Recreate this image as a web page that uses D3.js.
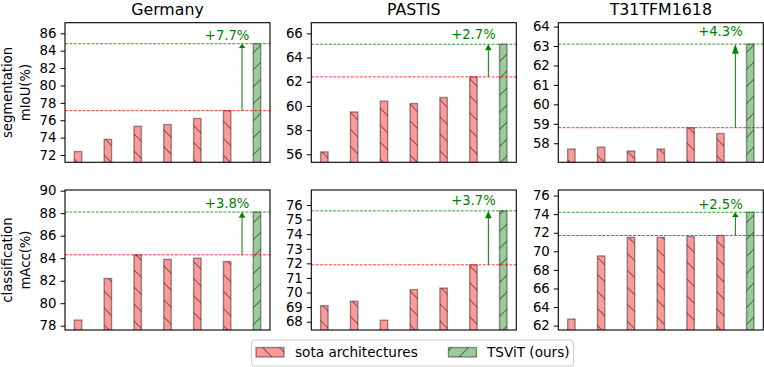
<!DOCTYPE html>
<html>
<head>
<meta charset="utf-8">
<script src="https://cdn.jsdelivr.net/npm/d3@7"></script>
<style>
  body { margin: 0; background: #fff; }
  svg { display: block; font-family: "DejaVu Sans", sans-serif; }
</style>
</head>
<body>
<svg width="764" height="367"></svg>
<script>
// columns / rows of the grid
var datasets = ["Germany", "PASTIS", "T31TFM1618"];
var rowLabels = [["segmentation", "mIoU(%)"], ["classification", "mAcc(%)"]];
var legendLabels = ["sota architectures", "TSViT (ours)"];

// segmentation (mIoU)
var segSota = [
  [72.4, 73.8, 75.3, 75.5, 76.2, 77.1],
  [56.2, 59.5, 60.4, 60.2, 60.7, 62.4],
  [57.7, 57.8, 57.6, 57.7, 58.8, 58.5]
];
var segTsvit = [84.8, 65.1, 63.1];
var segGain = ["+7.7%", "+2.7%", "+4.3%"];
var segYlim = [[71.16, 87.22], [55.34, 66.88], [57.02, 64.2]];
var segTicks = [
  [72, 74, 76, 78, 80, 82, 84, 86],
  [56, 58, 60, 62, 64, 66],
  [58, 59, 60, 61, 62, 63, 64]
];

// classification (mAcc)
var clsSota = [
  [78.5, 82.2, 84.3, 83.9, 84.0, 83.7],
  [69.1, 69.4, 68.1, 70.2, 70.3, 71.9],
  [62.7, 69.5, 71.5, 71.5, 71.6, 71.7]
];
var clsTsvit = [88.1, 75.6, 74.2];
var clsGain = ["+3.8%", "+3.7%", "+2.5%"];
var clsYlim = [[77.62, 90.06], [67.43, 77.03], [61.53, 76.6]];
var clsTicks = [
  [78, 80, 82, 84, 86, 88, 90],
  [68, 69, 70, 71, 72, 73, 74, 75, 76],
  [62, 64, 66, 68, 70, 72, 74, 76]
];

var redFill = "#ff9999", greenFill = "#99cc99";

var svg = d3.select("svg");

// hatch patterns
var defs = svg.append("defs");
function hatch(id, fill, dir) {
  var s = 17;
  var p = defs.append("pattern")
      .attr("id", id)
      .attr("patternUnits", "userSpaceOnUse")
      .attr("width", s).attr("height", s);
  p.append("rect").attr("width", s).attr("height", s).attr("fill", fill);
  var segs = dir == "/"
    ? [[0, s, s, 0], [-s, s, s, -s], [0, 2 * s, 2 * s, 0]]
    : [[0, 0, s, s], [-s, 0, s, 2 * s], [0, -s, 2 * s, s]];
  segs.forEach(function(l) {
    p.append("line")
      .attr("x1", l[0]).attr("y1", l[1]).attr("x2", l[2]).attr("y2", l[3])
      .attr("stroke", "#000").attr("stroke-opacity", 0.42).attr("stroke-width", 1.2);
  });
}
hatch("hatchRed", redFill, "\\");
hatch("hatchGreen", greenFill, "/");

var colLeft = [65, 311.3, 558.3], panelW = 205;
var rows = [
  {top: 22.7, bottom: 162.3, sota: segSota, tsvit: segTsvit, gain: segGain, ylim: segYlim, ticks: segTicks},
  {top: 190, bottom: 330, sota: clsSota, tsvit: clsTsvit, gain: clsGain, ylim: clsYlim, ticks: clsTicks}
];

rows.forEach(function(row, r) {
  datasets.forEach(function(name, c) {
    var left = colLeft[c], right = left + panelW;
    var x = d3.scaleLinear().domain([-0.4375, 6.4375]).range([left, right]);
    var y = d3.scaleLinear().domain(row.ylim[c]).range([row.bottom, row.top]);
    var g = svg.append("g");

    var clipId = "clip" + r + c;
    defs.append("clipPath").attr("id", clipId).append("rect")
        .attr("x", left).attr("y", row.top).attr("width", panelW).attr("height", row.bottom - row.top);
    var plot = g.append("g").attr("clip-path", "url(#" + clipId + ")");

    var vals = row.sota[c].concat([row.tsvit[c]]);
    var bw = x(0.25) - x(0);
    plot.selectAll("rect.bar").data(vals).enter().append("rect")
        .attr("class", "bar")
        .attr("x", function(d, i) { return x(i) - bw / 2; })
        .attr("width", bw)
        .attr("y", function(d) { return y(d); })
        .attr("height", function(d) { return row.bottom + 2 - y(d); })
        .attr("fill", function(d, i) { return i < 6 ? "url(#hatchRed)" : "url(#hatchGreen)"; })
        .attr("stroke", "#000").attr("stroke-opacity", 0.4).attr("stroke-width", 1.4);

    var best = d3.max(row.sota[c]);
    var top = row.tsvit[c];
    [[best, "red"], [top, "green"]].forEach(function(h) {
      plot.append("line")
          .attr("x1", left).attr("x2", right)
          .attr("y1", y(h[0])).attr("y2", y(h[0]))
          .attr("stroke", h[1]).attr("stroke-width", 0.8)
          .attr("stroke-dasharray", "3,1.4");
    });

    // arrow from best sota up to TSViT
    var ax = x(5.5), headLen = y(top - 0.5) - y(top), headW = x(0.11) - x(0);
    plot.append("line")
        .attr("x1", ax).attr("x2", ax)
        .attr("y1", y(best)).attr("y2", y(top) + headLen)
        .attr("stroke", "green").attr("stroke-width", 1);
    plot.append("path")
        .attr("d", "M" + ax + "," + y(top) + "L" + (ax - headW) + "," + (y(top) + headLen) +
                   "L" + (ax + headW) + "," + (y(top) + headLen) + "Z")
        .attr("fill", "green");

    g.append("text")
        .attr("x", x(5)).attr("y", y(top + 0.4))
        .attr("text-anchor", "middle")
        .attr("font-size", 13.2).attr("fill", "green")
        .text(row.gain[c]);

    // y axis
    var yAxis = d3.axisLeft(y).tickValues(row.ticks[c]).tickSize(4.5).tickPadding(4)
        .tickFormat(d3.format("d"));
    var ag = g.append("g").attr("transform", "translate(" + left + ",0)").call(yAxis);
    ag.select(".domain").remove();
    ag.selectAll("text").attr("font-size", 13.3).attr("fill", "#000")
        .attr("font-family", "DejaVu Sans");
    ag.selectAll("line").attr("stroke", "#000").attr("stroke-width", 1);

    g.append("rect")
        .attr("x", left).attr("y", row.top)
        .attr("width", panelW).attr("height", row.bottom - row.top)
        .attr("fill", "none").attr("stroke", "#000").attr("stroke-width", 1.1);

    if (r == 0) {
      svg.append("text")
          .attr("x", left + panelW / 2).attr("y", 15)
          .attr("text-anchor", "middle").attr("font-size", 15.8)
          .text(name);
    }
  });

  var cy = (row.top + row.bottom) / 2;
  rowLabels[r].forEach(function(t, k) {
    svg.append("text")
        .attr("transform", "translate(" + (12 + k * 18) + "," + cy + ") rotate(-90)")
        .attr("text-anchor", "middle").attr("font-size", 13.2)
        .text(t);
  });
});

// legend
var lg = svg.append("g");
lg.append("rect")
    .attr("x", 251.5).attr("y", 340).attr("width", 322).attr("height", 26)
    .attr("rx", 3).attr("fill", "#fff").attr("fill-opacity", 0.8)
    .attr("stroke", "#cccccc").attr("stroke-width", 1);
var items = [
  {label: legendLabels[0], fill: "url(#hatchRed)", px: 256, tx: 295},
  {label: legendLabels[1], fill: "url(#hatchGreen)", px: 448.5, tx: 487}
];
items.forEach(function(it) {
  lg.append("rect")
      .attr("x", it.px).attr("y", 347.5).attr("width", 28).attr("height", 9.5)
      .attr("fill", it.fill)
      .attr("stroke", "#000").attr("stroke-opacity", 0.4).attr("stroke-width", 1.4);
  lg.append("text")
      .attr("x", it.tx).attr("y", 357)
      .attr("font-size", 13.6)
      .text(it.label);
});
</script>
</body>
</html>
